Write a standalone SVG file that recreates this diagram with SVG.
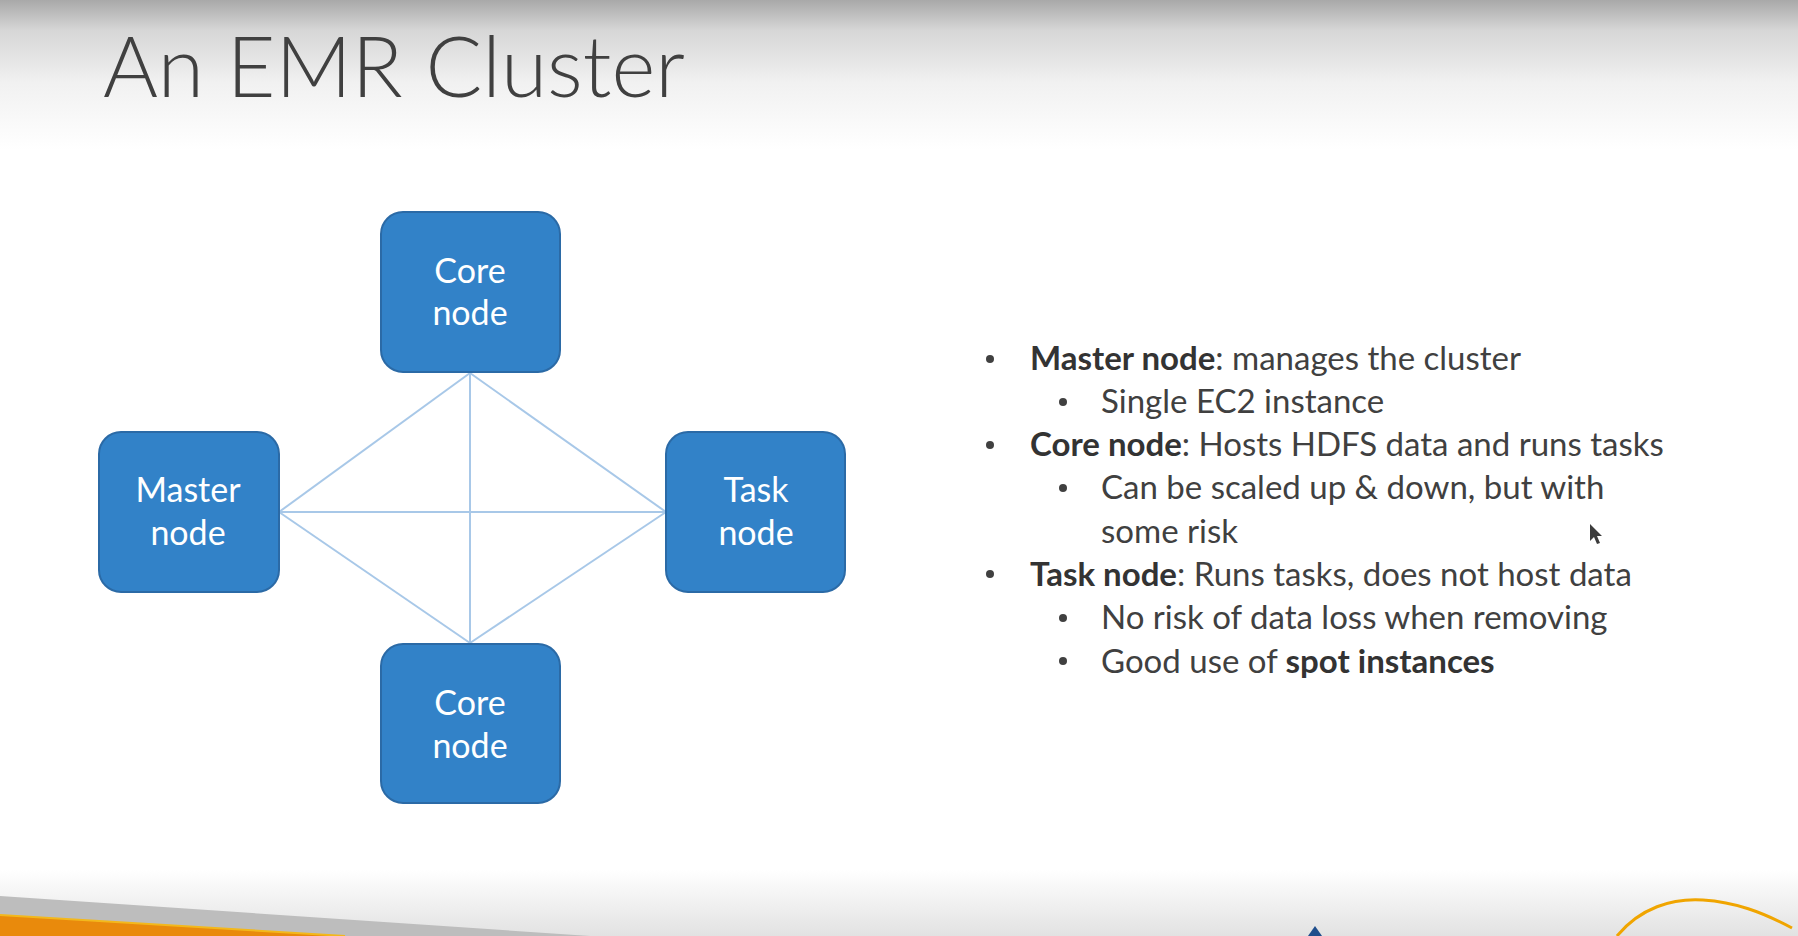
<svg xmlns="http://www.w3.org/2000/svg" width="1798" height="936" viewBox="0 0 1798 936">
<defs>
<linearGradient id="topg" x1="0" y1="0" x2="0" y2="1">
<stop offset="0" stop-color="#a9a9a9"/>
<stop offset="0.2" stop-color="#d6d6d6"/>
<stop offset="0.55" stop-color="#f1f1f1"/>
<stop offset="1" stop-color="#ffffff"/>
</linearGradient>
<linearGradient id="botg" x1="0" y1="0" x2="0" y2="1">
<stop offset="0" stop-color="#ffffff"/>
<stop offset="1" stop-color="#e2e2e2"/>
</linearGradient>
<style>
.node rect{fill:#3282c8;stroke:#2b6aa6;stroke-width:2}
.node text{fill:#ffffff;font-family:Lato,"Open Sans","Liberation Sans",sans-serif;font-size:34px;text-anchor:middle}
.conn line{stroke:#a8c8e8;stroke-width:2}
.body{fill:#404040;font-family:Lato,"Open Sans","Liberation Sans",sans-serif;font-size:33px}
.b{font-weight:bold;fill:#333333}
.dot{fill:#404040}
</style>
</defs>
<rect width="1798" height="936" fill="#ffffff"/>
<rect width="1798" height="150" fill="url(#topg)"/>
<rect y="870" width="1798" height="66" fill="url(#botg)"/>
<polygon points="0,896 590,936 0,936" fill="#bdbdbd"/>
<polygon points="0,915 345,936 0,936" fill="#e98a0c"/>
<line x1="0" y1="915" x2="345" y2="936" stroke="#f3b81c" stroke-width="2"/>
<polygon points="1308,936 1315,926 1322,936" fill="#1f4e8c"/>
<path d="M1617,936 C1640,908 1672,898 1703,900 C1735,902 1762,912 1792,928" fill="none" stroke="#f0a500" stroke-width="3"/>
<text x="103" y="97" font-family="Lato,'Open Sans','Liberation Sans',sans-serif" font-weight="300" font-size="84" fill="#404040">An EMR Cluster</text>
<g id="connectors" class="conn">
<line x1="470" y1="373" x2="279" y2="512"/>
<line x1="470" y1="373" x2="666" y2="512"/>
<line x1="470" y1="373" x2="470" y2="643"/>
<line x1="279" y1="512" x2="666" y2="512"/>
<line x1="279" y1="512" x2="470" y2="643"/>
<line x1="666" y1="512" x2="470" y2="643"/>
</g>
<g id="core-top" class="node">
<rect x="381" y="212" width="179" height="160" rx="22"/>
<text x="470" y="283">Core</text>
<text x="470" y="325">node</text>
</g>
<g id="master" class="node">
<rect x="99" y="432" width="180" height="160" rx="22"/>
<text x="188" y="502">Master</text>
<text x="188" y="545">node</text>
</g>
<g id="task" class="node">
<rect x="666" y="432" width="179" height="160" rx="22"/>
<text x="756" y="502">Task</text>
<text x="756" y="545">node</text>
</g>
<g id="core-bottom" class="node">
<rect x="381" y="644" width="179" height="159" rx="22"/>
<text x="470" y="715">Core</text>
<text x="470" y="758">node</text>
</g>
<g id="bullets">
<circle class="dot" cx="990" cy="359" r="4"/>
<text class="body" x="1030" y="370"><tspan class="b">Master node</tspan>: manages the cluster</text>
<circle class="dot" cx="1063" cy="402" r="4"/>
<text class="body" x="1101" y="413">Single EC2 instance</text>
<circle class="dot" cx="990" cy="445" r="4"/>
<text class="body" x="1030" y="456"><tspan class="b">Core node</tspan>: Hosts HDFS data and runs tasks</text>
<circle class="dot" cx="1063" cy="488" r="4"/>
<text class="body" x="1101" y="499">Can be scaled up &amp; down, but with</text>
<text class="body" x="1101" y="543">some risk</text>
<circle class="dot" cx="990" cy="574" r="4"/>
<text class="body" x="1030" y="586"><tspan class="b">Task node</tspan>: Runs tasks, does not host data</text>
<circle class="dot" cx="1063" cy="618" r="4"/>
<text class="body" x="1101" y="629">No risk of data loss when removing</text>
<circle class="dot" cx="1063" cy="661" r="4"/>
<text class="body" x="1101" y="673">Good use of <tspan class="b">spot instances</tspan></text>
</g>
<polygon points="1590,524 1590,541 1594,537 1597,544 1600,543 1597,536 1602,536" fill="#3c3c3c"/>
</svg>
